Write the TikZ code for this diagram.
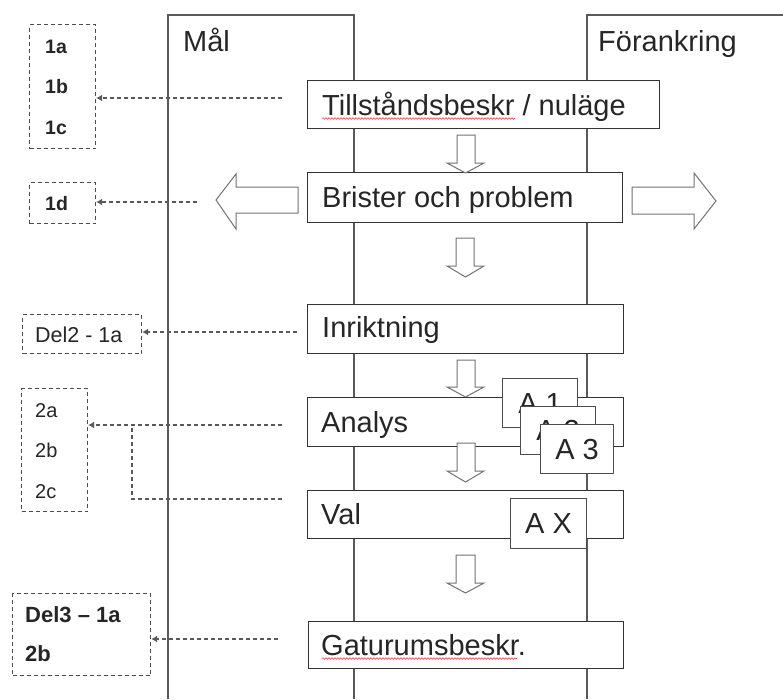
\documentclass[tikz,border=0pt]{standalone}
\usepackage{fontspec}
\setmainfont{Liberation Sans}
\usetikzlibrary{arrows.meta,decorations.pathmorphing}
\begin{document}
\begin{tikzpicture}[x=1pt,y=-1pt,
  col/.style={draw=black!65, line width=1.2pt},
  mainbox/.style={draw=black!80, line width=1.4pt, fill=white, inner sep=0pt, anchor=north west},
  abox/.style={draw=black!70, line width=1.2pt, fill=white, inner sep=0pt, anchor=north west, font=\fontsize{29}{30}\selectfont, text=black!85},
  lbl/.style={inner sep=0pt, anchor=base west, font=\fontsize{29}{30}\selectfont, text=black!85},
  dbox/.style={draw=black!70, line width=1.2pt, dash pattern=on 4pt off 3pt, inner sep=0pt, anchor=north west},
  slbl/.style={inner sep=0pt, anchor=base west, font=\fontsize{20}{22}\selectfont, text=black!85},
  blbl/.style={slbl, font=\fontsize{19.5}{22}\selectfont\bfseries},
  harrow/.style={draw=black!55, line width=1pt, fill=white, line join=miter},
  dcon/.style={draw=black!65, line width=1.2pt, dash pattern=on 4pt off 3pt},
  dtip/.style={-{Latex[length=6pt,width=7pt]}},
  squig/.style={draw=red!80, line width=0.6pt, decorate, decoration={snake, amplitude=0.8pt, segment length=3pt}}
]
\useasboundingbox (0,0) rectangle (783,699);
\fill[white] (0,0) rectangle (783,699);

% columns
\draw[col] (168,699) -- (168,15) -- (354,15) -- (354,699);
\draw[col] (587,699) -- (587,15) -- (783,15);
\node[lbl] (mal) at (183,51) {Mål};
\node[lbl] (forank) at (598,51) {Förankring};

% main boxes
\node[mainbox, minimum width=352pt, minimum height=48pt] (t1) at (307,80) {};
\node[lbl] (t1t) at (322,115) {Tillståndsbeskr / nuläge};
\node[mainbox, minimum width=315pt, minimum height=50pt] (t2) at (307,172) {};
\node[lbl] (t2t) at (322,207) {Brister och problem};
\node[mainbox, minimum width=316pt, minimum height=49pt] (t3) at (307,304) {};
\node[lbl] (t3t) at (322,337) {Inriktning};
\node[mainbox, minimum width=316pt, minimum height=49pt] (t4) at (307,397) {};
\node[lbl] (t4t) at (321,432) {Analys};
\node[mainbox, minimum width=316pt, minimum height=48pt] (t5) at (307,490) {};
\node[lbl] (t5t) at (321,524) {Val};
\node[mainbox, minimum width=315pt, minimum height=47pt] (t6) at (308,621) {};
\node[lbl] (t6t) at (321,655) {Gaturumsbeskr.};

% spell-check squiggles
\draw[squig] (322,118.5) -- (515,118.5);
\draw[squig] (322,658.5) -- (517,658.5);

% A boxes
\node[abox, minimum width=75pt, minimum height=49pt] (a1) at (502,378) {A 1};
\node[abox, minimum width=75pt, minimum height=48pt] (a2) at (520,406) {A 2};
\node[abox, minimum width=73pt, minimum height=49pt] (a3) at (540,424) {A 3};
\node[abox, minimum width=76pt, minimum height=50pt] (ax) at (510,498) {A X};

% hollow down arrows
\draw[harrow] (457,135) -- (475,135) -- (475,163) -- (484,163) -- (465.5,173) -- (447,163) -- (457,163) -- cycle;
\draw[harrow] (456,238) -- (474,238) -- (474,266) -- (484,266) -- (465.5,277) -- (447,266) -- (456,266) -- cycle;
\draw[harrow] (457,360) -- (475,360) -- (475,387) -- (484,387) -- (465.5,397) -- (447,387) -- (457,387) -- cycle;
\draw[harrow] (457,443) -- (475,443) -- (475,471) -- (484,471) -- (465.5,482) -- (447,471) -- (457,471) -- cycle;
\draw[harrow] (456,555) -- (475,555) -- (475,583) -- (484,583) -- (465.5,593) -- (447,583) -- (456,583) -- cycle;

% big side arrows
\draw[harrow] (216,200) -- (236,174) -- (236,187) -- (298,187) -- (298,213) -- (236,213) -- (236,229) -- cycle;
\draw[harrow] (716,201) -- (694,173) -- (694,187) -- (632,187) -- (632,214) -- (694,214) -- (694,229) -- cycle;

% dashed label boxes
\node[dbox, minimum width=66pt, minimum height=124pt] (g1) at (29,24) {};
\node[blbl] (g1a) at (45,53) {1a};
\node[blbl] (g1b) at (45,93) {1b};
\node[blbl] (g1c) at (45,134) {1c};

\node[dbox, minimum width=66pt, minimum height=41pt] (g2) at (29,182) {};
\node[blbl] (g2a) at (45,210) {1d};

\node[dbox, minimum width=119pt, minimum height=39pt] (g3) at (22,314) {};
\node[slbl, font=\fontsize{21.5}{23}\selectfont] (g3a) at (35,342) {Del2 - 1a};

\node[dbox, minimum width=66pt, minimum height=123pt] (g4) at (21,388) {};
\node[slbl] (g4a) at (35,417) {2a};
\node[slbl] (g4b) at (35,457) {2b};
\node[slbl] (g4c) at (35,498) {2c};

\node[dbox, minimum width=138pt, minimum height=82pt] (g5) at (12,593) {};
\node[slbl, font=\fontsize{22}{24}\selectfont\bfseries] (g5a) at (25,622) {Del3 – 1a};
\node[slbl, font=\fontsize{22}{24}\selectfont\bfseries] (g5b) at (25,661) {2b};

% dashed connectors
\coordinate (s1) at (282,98);
\coordinate (s2) at (197,202);
\coordinate (s3) at (297,332);
\coordinate (s4) at (282,425);
\coordinate (s4b) at (282,499);
\coordinate (k4) at (132,499);
\coordinate (s5) at (278,639);
\draw[dcon, dtip] (s1) -- (s1 -| g1.east);
\draw[dcon, dtip] (s2) -- (s2 -| g2.east);
\draw[dcon, dtip] (s3) -- (s3 -| g3.east);
\draw[dcon, dtip] (s4) -- (s4 -| g4.east);
\draw[dcon] (s4b) -- (k4) -- (k4 |- s4);
\draw[dcon, dtip] (s5) -- (s5 -| g5.east);
\end{tikzpicture}
\end{document}
